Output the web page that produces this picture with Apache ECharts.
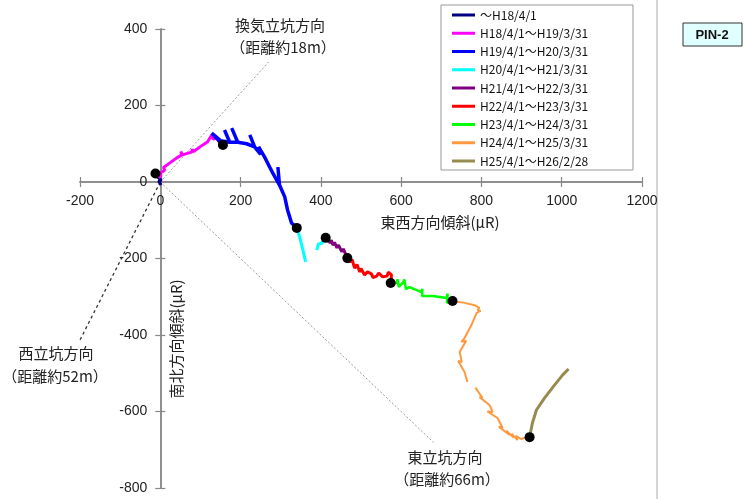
<!DOCTYPE html>
<html>
<head>
<meta charset="utf-8">
<script src="https://cdn.jsdelivr.net/npm/echarts@6/dist/echarts.min.js"></script>
<style>
html,body{margin:0;padding:0;background:#fff;}
#c{width:743px;height:499px;}
</style>
</head>
<body>
<div id="c"></div>
<script>
// ---- data (東西方向傾斜 x, 南北方向傾斜 y, μR) ----
const periodNames = ['～H18/4/1','H18/4/1～H19/3/31','H19/4/1～H20/3/31','H20/4/1～H21/3/31','H21/4/1～H22/3/31','H22/4/1～H23/3/31','H23/4/1～H24/3/31','H24/4/1～H25/3/31','H25/4/1～H26/2/28'];
const periodColors = ['#000080','#ff00ff','#0000ff','#00ffff','#800080','#ff0000','#00ff00','#ff9940','#968c50'];

const segH18 = [[2,-8],[-4,2],[3,5],[-6,12],[-12,22]];
const segH18_19 = [[-12,22],[0,12],[2,25],[11,31],[8,38],[24,50],[41,63],[54,71],[51,80],[55,71],[78,78],[80,86],[82,79],[106,97],[118,105],[128,123],[132,112],[141,115],[148,102],[156,97]];
const segH19_20 = [[156,97],[128,128],[150,108],[173,104],[160,136],[173,104],[193,104],[178,141],[193,104],[215,100],[235,92],[223,123],[235,92],[250,72],[245,92],[260,65],[272,40],[280,24],[297,-8],[293,39],[297,-8],[310,-39],[317,-73],[313,-78],[327,-107],[340,-120]];
const segH20_21 = [[340,-120],[347,-143],[354,-172],[362,-209],null,[390,-178],[394,-162],[403,-160],[409,-144],[412,-146]];
const segH21_22 = [[412,-146],[423,-159],[426,-152],[430,-165],[434,-158],[440,-172],[444,-165],[452,-182],[456,-175],[466,-199]];
const segH22_23 = [[466,-199],[472,-209],[478,-203],[484,-225],[490,-216],[497,-235],[500,-226],[509,-243],[516,-235],[526,-240],[530,-250],[539,-246],[544,-238],[554,-248],[565,-246],[568,-236],[576,-243],[574,-264]];
const segH23_24 = [[574,-264],[589,-264],[591,-254],[594,-274],[604,-264],[608,-255],[612,-280],[621,-275],[651,-288],[653,-279],[652,-298],[679,-298],[713,-303],[716,-292],[714,-316],[728,-311]];
const segH24_25 = [[728,-311],[758,-316],[783,-322],[795,-329],[790,-335],[798,-337],[788,-342],[775,-374],[758,-408],[750,-418],[762,-415],[746,-444],[751,-471],[742,-468],[758,-497],[765,-523],null,[790,-544],[785,-538],[803,-565],[795,-562],[820,-583],[828,-601],[815,-600],[840,-617],[853,-643],[843,-640],[870,-661],[862,-650],[880,-668],[875,-658],[890,-675],[885,-664],[900,-672],[907,-669],[920,-667]];
const segH25_26 = [[920,-667],[927,-630],[937,-596],[957,-565],[982,-531],[1002,-505],[1017,-489]];
const periodData = [segH18,segH18_19,segH19_20,segH20_21,segH21_22,segH22_23,segH23_24,segH24_25,segH25_26];
const periodWidths = [3,3,3.5,3,3,3,2.5,2,3];

const dotsX = [-12,156,340,412,466,574,728,920];
const dotsY = [22,97,-120,-146,-199,-264,-311,-667];

// direction lines from origin
const dirVentShaft = [[0,0],[270,314]];
const dirEastShaft = [[0,0],[681,-681]];
const dirWestShaft = [[0,0],[-200,-413]];

const xTickMin = -200, xTickMax = 1200, xTickStep = 200;
const yTickMin = -800, yTickMax = 400, yTickStep = 200;

// ---- chart ----
const W = 743, H = 499;
const G = {left:80, right:101, top:29, bottom:11};
const gw = W - G.left - G.right, gh = H - G.top - G.bottom;
// axis offsets so that the axes cross at the data origin
const x0px = G.left + (0 - xTickMin) / (xTickMax - xTickMin) * gw;
const y0px = G.top + (yTickMax - 0) / (yTickMax - yTickMin) * gh;
const offBottom = -((G.top + gh) - y0px);
const offTop = -(y0px - G.top);
const offLeft = -(x0px - G.left);
const offRight = -((G.left + gw) - x0px);

const chart = echarts.init(document.getElementById('c'));
const NUM = "'Liberation Sans', Arial, sans-serif";
const JP = "'Noto Sans CJK JP', sans-serif";

function splitNull(arr){
  const out=[];let cur=[];
  arr.forEach(p=>{ if(p===null){ if(cur.length) out.push(cur); cur=[]; } else cur.push(p); });
  if(cur.length) out.push(cur);
  return out;
}

const series = [];
series.push({type:'line',data:dirVentShaft,symbol:'none',silent:true,lineStyle:{color:'#999',width:1,type:[2,2]},z:1});
series.push({type:'line',data:dirEastShaft,symbol:'none',silent:true,lineStyle:{color:'#999',width:1,type:[2,2]},z:1});
series.push({type:'line',data:dirWestShaft,symbol:'none',silent:true,lineStyle:{color:'#333',width:1.3,type:[3,3]},z:1});

periodData.forEach((seg,i)=>{
  splitNull(seg).forEach(part=>{
    series.push({type:'line',name:periodNames[i],data:part,symbol:'none',showSymbol:false,
      lineStyle:{color:periodColors[i],width:periodWidths[i]},itemStyle:{color:periodColors[i]},z:3});
  });
});
series.push({type:'scatter',data:dotsX.map((x,i)=>[x,dotsY[i]]),symbol:'circle',symbolSize:10,itemStyle:{color:'#000',opacity:1},z:5,silent:true});

const axisColor = '#888';
const plainNum = v => String(v);
function baseAxis(extra){
  return Object.assign({type:'value',splitLine:{show:false},
    axisTick:{show:true,length:5,lineStyle:{color:axisColor,width:1.2}}}, extra);
}
const option = {
  animation:false,
  backgroundColor:'#fff',
  grid:{left:G.left,right:G.right,top:G.top,bottom:G.bottom,containLabel:false,outerBoundsMode:'none'},
  xAxis:[
    baseAxis({min:xTickMin,max:xTickMax,interval:xTickStep,position:'bottom',offset:offBottom,
      axisLine:{onZero:false,lineStyle:{color:axisColor,width:1.5}},
      axisLabel:{color:'#222',fontFamily:NUM,fontSize:14,margin:12,formatter:plainNum}}),
    baseAxis({min:xTickMin,max:xTickMax,interval:xTickStep,position:'top',offset:offTop,
      axisLine:{onZero:false,lineStyle:{color:axisColor,width:1.5}},
      axisLabel:{show:false}})
  ],
  yAxis:[
    baseAxis({min:yTickMin,max:yTickMax,interval:yTickStep,position:'left',offset:offLeft,
      axisLine:{onZero:false,lineStyle:{color:axisColor,width:1.5}},
      axisLabel:{color:'#222',fontFamily:NUM,fontSize:14,margin:13,formatter:plainNum}}),
    baseAxis({min:yTickMin,max:yTickMax,interval:yTickStep,position:'right',offset:offRight,
      axisLine:{onZero:false,lineStyle:{color:axisColor,width:1.5}},
      axisLabel:{show:false}})
  ],
  legend:{
    orient:'vertical',left:452,top:8,padding:0,itemWidth:23,itemHeight:3,itemGap:4.25,icon:'rect',
    data:periodNames,
    textStyle:{fontFamily:JP,fontSize:12,color:'#111',lineHeight:14}
  },
  graphic:[
    {type:'rect',shape:{x:441,y:5,width:192,height:165},style:{fill:'#fff',stroke:'#999',lineWidth:1},z:-10,zlevel:0},
    {type:'line',shape:{x1:657,y1:0,x2:657,y2:499},style:{stroke:'#aaa',lineWidth:1},z:-10},
    {type:'rect',shape:{x:683,y:23,width:59,height:23},style:{fill:'#e0ffff',stroke:'#333',lineWidth:1}},
    {type:'text',x:712,y:35,style:{text:'PIN-2',font:"bold 13px 'Liberation Sans', Arial, sans-serif",fill:'#111',align:'center',verticalAlign:'middle'}},
    {type:'text',x:440,y:222,style:{text:'東西方向傾斜(μR)',font:"15px 'Noto Sans CJK JP', sans-serif",fill:'#222',align:'center',verticalAlign:'middle'}},
    {type:'text',x:176,y:339,rotation:Math.PI/2,style:{text:'南北方向傾斜(μR)',font:"15px 'Noto Sans CJK JP', sans-serif",fill:'#222',align:'center',verticalAlign:'middle'}},
    {type:'text',x:280,y:25,style:{text:'換気立坑方向',font:"15px 'Noto Sans CJK JP', sans-serif",fill:'#222',align:'center',verticalAlign:'middle'}},
    {type:'text',x:283,y:47,style:{text:'（距離約18m）',font:"15px 'Noto Sans CJK JP', sans-serif",fill:'#222',align:'center',verticalAlign:'middle'}},
    {type:'text',x:56,y:353,style:{text:'西立坑方向',font:"15px 'Noto Sans CJK JP', sans-serif",fill:'#222',align:'center',verticalAlign:'middle'}},
    {type:'text',x:55,y:376,style:{text:'（距離約52m）',font:"15px 'Noto Sans CJK JP', sans-serif",fill:'#222',align:'center',verticalAlign:'middle'}},
    {type:'text',x:445,y:457,style:{text:'東立坑方向',font:"15px 'Noto Sans CJK JP', sans-serif",fill:'#222',align:'center',verticalAlign:'middle'}},
    {type:'text',x:447,y:479,style:{text:'（距離約66m）',font:"15px 'Noto Sans CJK JP', sans-serif",fill:'#222',align:'center',verticalAlign:'middle'}}
  ],
  series:series
};
chart.setOption(option);
</script>
</body>
</html>
